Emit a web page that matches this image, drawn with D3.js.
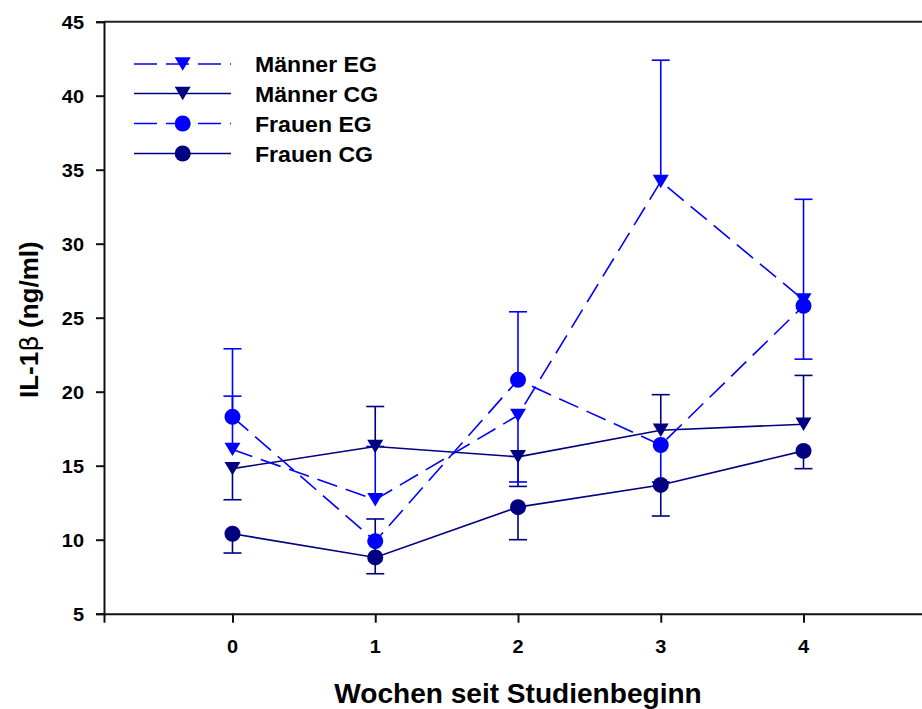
<!DOCTYPE html>
<html>
<head>
<meta charset="utf-8">
<script src="https://cdn.jsdelivr.net/npm/d3@7"></script>
<style>
  html, body { margin: 0; padding: 0; background: #fff; }
  svg { display: block; }
  text { font-family: "Liberation Sans", Arial, sans-serif; font-weight: bold; fill: #000; }
</style>
</head>
<body>
<svg id="chart" width="922" height="709"></svg>
<script>
// Week of study and measured IL-1β means per group
const weeks = [0, 1, 2, 3, 4];
const maennerEG = [16.1, 12.7, 18.4, 34.2, 26.2];
const maennerCG = [14.8, 16.3, 15.6, 17.4, 17.8];
const frauenEG  = [18.3, 9.9, 20.8, 16.4, 25.8];
const frauenCG  = [10.4, 8.8, 12.2, 13.7, 16.0];

// Error bar end values (one-sided bars, per week)
const maennerEGErr = [[19.7], [16.3], [13.9], [42.4], [33.0]];
const maennerCGErr = [[12.7], [19.0], [13.6], [19.8], [21.1]];
const frauenEGErr  = [[22.9], [], [25.4], [13.9], [22.2]];
const frauenCGErr  = [[9.1], [7.7, 11.4], [10.0], [11.6], [14.8]];

const yTicks = [5, 10, 15, 20, 25, 30, 35, 40, 45];
const xTicks = [0, 1, 2, 3, 4];
const seriesNames = ["Männer EG", "Männer CG", "Frauen EG", "Frauen CG"];

const LIGHT = "#0000ff", DARK = "#000080";
const series = [
  { name: seriesNames[0], values: maennerEG, err: maennerEGErr, color: LIGHT, dashed: true,  shape: "tri" },
  { name: seriesNames[1], values: maennerCG, err: maennerCGErr, color: DARK,  dashed: false, shape: "tri" },
  { name: seriesNames[2], values: frauenEG,  err: frauenEGErr,  color: LIGHT, dashed: true,  shape: "circle" },
  { name: seriesNames[3], values: frauenCG,  err: frauenCGErr,  color: DARK,  dashed: false, shape: "circle" }
];

const svg = d3.select("#chart");
const plotLeft = 104, plotRight = 932, plotTop = 21.7, plotBottom = 613.7;

const x = d3.scaleLinear().domain([-0.9, 4.9]).range([plotLeft, plotRight]);
const y = d3.scaleLinear().domain([5, 45]).range([plotBottom, plotTop]);

// Text helper with horizontal stretch
function stretchedText(g, str, tx, ty, size, sx, anchor) {
  return g.append("text")
    .attr("transform", `translate(${tx},${ty}) scale(${sx},1)`)
    .attr("text-anchor", anchor || "start")
    .style("font-size", size + "px")
    .text(str);
}

// Top frame line
svg.append("line").attr("x1", plotLeft).attr("x2", plotRight).attr("y1", plotTop).attr("y2", plotTop)
  .attr("stroke", "#222").attr("stroke-width", 2);

// Y axis
const yAxis = d3.axisLeft(y).tickValues(yTicks).tickSize(8).tickFormat("");
const yg = svg.append("g").attr("transform", `translate(${plotLeft},0)`).call(yAxis);
yg.select(".domain").attr("stroke", "#111").attr("stroke-width", 2);
yg.selectAll(".tick line").attr("stroke", "#111").attr("stroke-width", 2);
yTicks.forEach(v => {
  stretchedText(svg, String(v), 84, y(v) + 7, 19, 1.05, "end");
});

// X axis
const xAxis = d3.axisBottom(x).tickValues(xTicks).tickSize(9).tickFormat("");
const xg = svg.append("g").attr("transform", `translate(0,${plotBottom})`).call(xAxis);
xg.select(".domain").attr("stroke", "#111").attr("stroke-width", 2);
xg.selectAll(".tick line").attr("stroke", "#111").attr("stroke-width", 2);
xTicks.forEach(v => {
  stretchedText(svg, String(v), x(v), 652.5, 19, 1.05, "middle");
});

// Axis titles
stretchedText(svg, "Wochen seit Studienbeginn", (plotLeft + plotRight) / 2, 703, 27, 1.04, "middle");

const yTitle = svg.append("text")
  .attr("transform", `translate(38,${(plotTop + plotBottom) / 2 + 2}) rotate(-90) scale(1.04,1)`)
  .attr("text-anchor", "middle")
  .style("font-size", "25px");
yTitle.append("tspan").text("IL-1");
yTitle.append("tspan").style("font-family", "'DejaVu Sans', sans-serif").style("font-weight", "normal").text("β");
yTitle.append("tspan").text(" (ng/ml)");

// Marker drawing
function drawMarker(g, shape, cx, cy, color) {
  if (shape === "circle") {
    g.append("circle").attr("cx", cx).attr("cy", cy).attr("r", 8).attr("fill", color);
  } else {
    g.append("path")
      .attr("d", `M${cx - 8},${cy - 6.7}L${cx + 8},${cy - 6.7}L${cx},${cy + 6.7}Z`)
      .attr("fill", color);
  }
}

const plot = svg.append("g");
const line = d3.line().x((d, i) => x(weeks[i])).y(d => y(d));

// Error bars
const drawOrder = [3, 1, 2, 0];
drawOrder.forEach(si => {
  const s = series[si];
  const g = plot.append("g");
  s.err.forEach((ends, i) => {
    ends.forEach(e => {
      const cx = x(weeks[i]);
      g.append("line").attr("x1", cx).attr("x2", cx).attr("y1", y(s.values[i])).attr("y2", y(e))
        .attr("stroke", s.color).attr("stroke-width", 1.6);
      g.append("line").attr("x1", cx - 9).attr("x2", cx + 9).attr("y1", y(e)).attr("y2", y(e))
        .attr("stroke", s.color).attr("stroke-width", 1.6);
    });
  });
});

// Lines
drawOrder.forEach(si => {
  const s = series[si];
  plot.append("path").datum(s.values)
    .attr("d", line)
    .attr("fill", "none")
    .attr("stroke", s.color)
    .attr("stroke-width", 1.6)
    .attr("stroke-dasharray", s.dashed ? "21,9" : null);
});

// Markers
drawOrder.forEach(si => {
  const s = series[si];
  s.values.forEach((v, i) => drawMarker(plot, s.shape, x(weeks[i]), y(v), s.color));
});

// Legend
const legend = svg.append("g");
const legendRows = [64, 93.5, 123.5, 153.5];
series.forEach((s, i) => {
  const ly = legendRows[i];
  legend.append("line").attr("x1", 134).attr("x2", 231).attr("y1", ly).attr("y2", ly)
    .attr("stroke", s.color).attr("stroke-width", 1.6)
    .attr("stroke-dasharray", s.dashed ? "23,9" : null);
  drawMarker(legend, s.shape, 182.7, ly, s.color);
  stretchedText(legend, s.name, 255, ly + 8, 22, 1.05, "start");
});
</script>
</body>
</html>
